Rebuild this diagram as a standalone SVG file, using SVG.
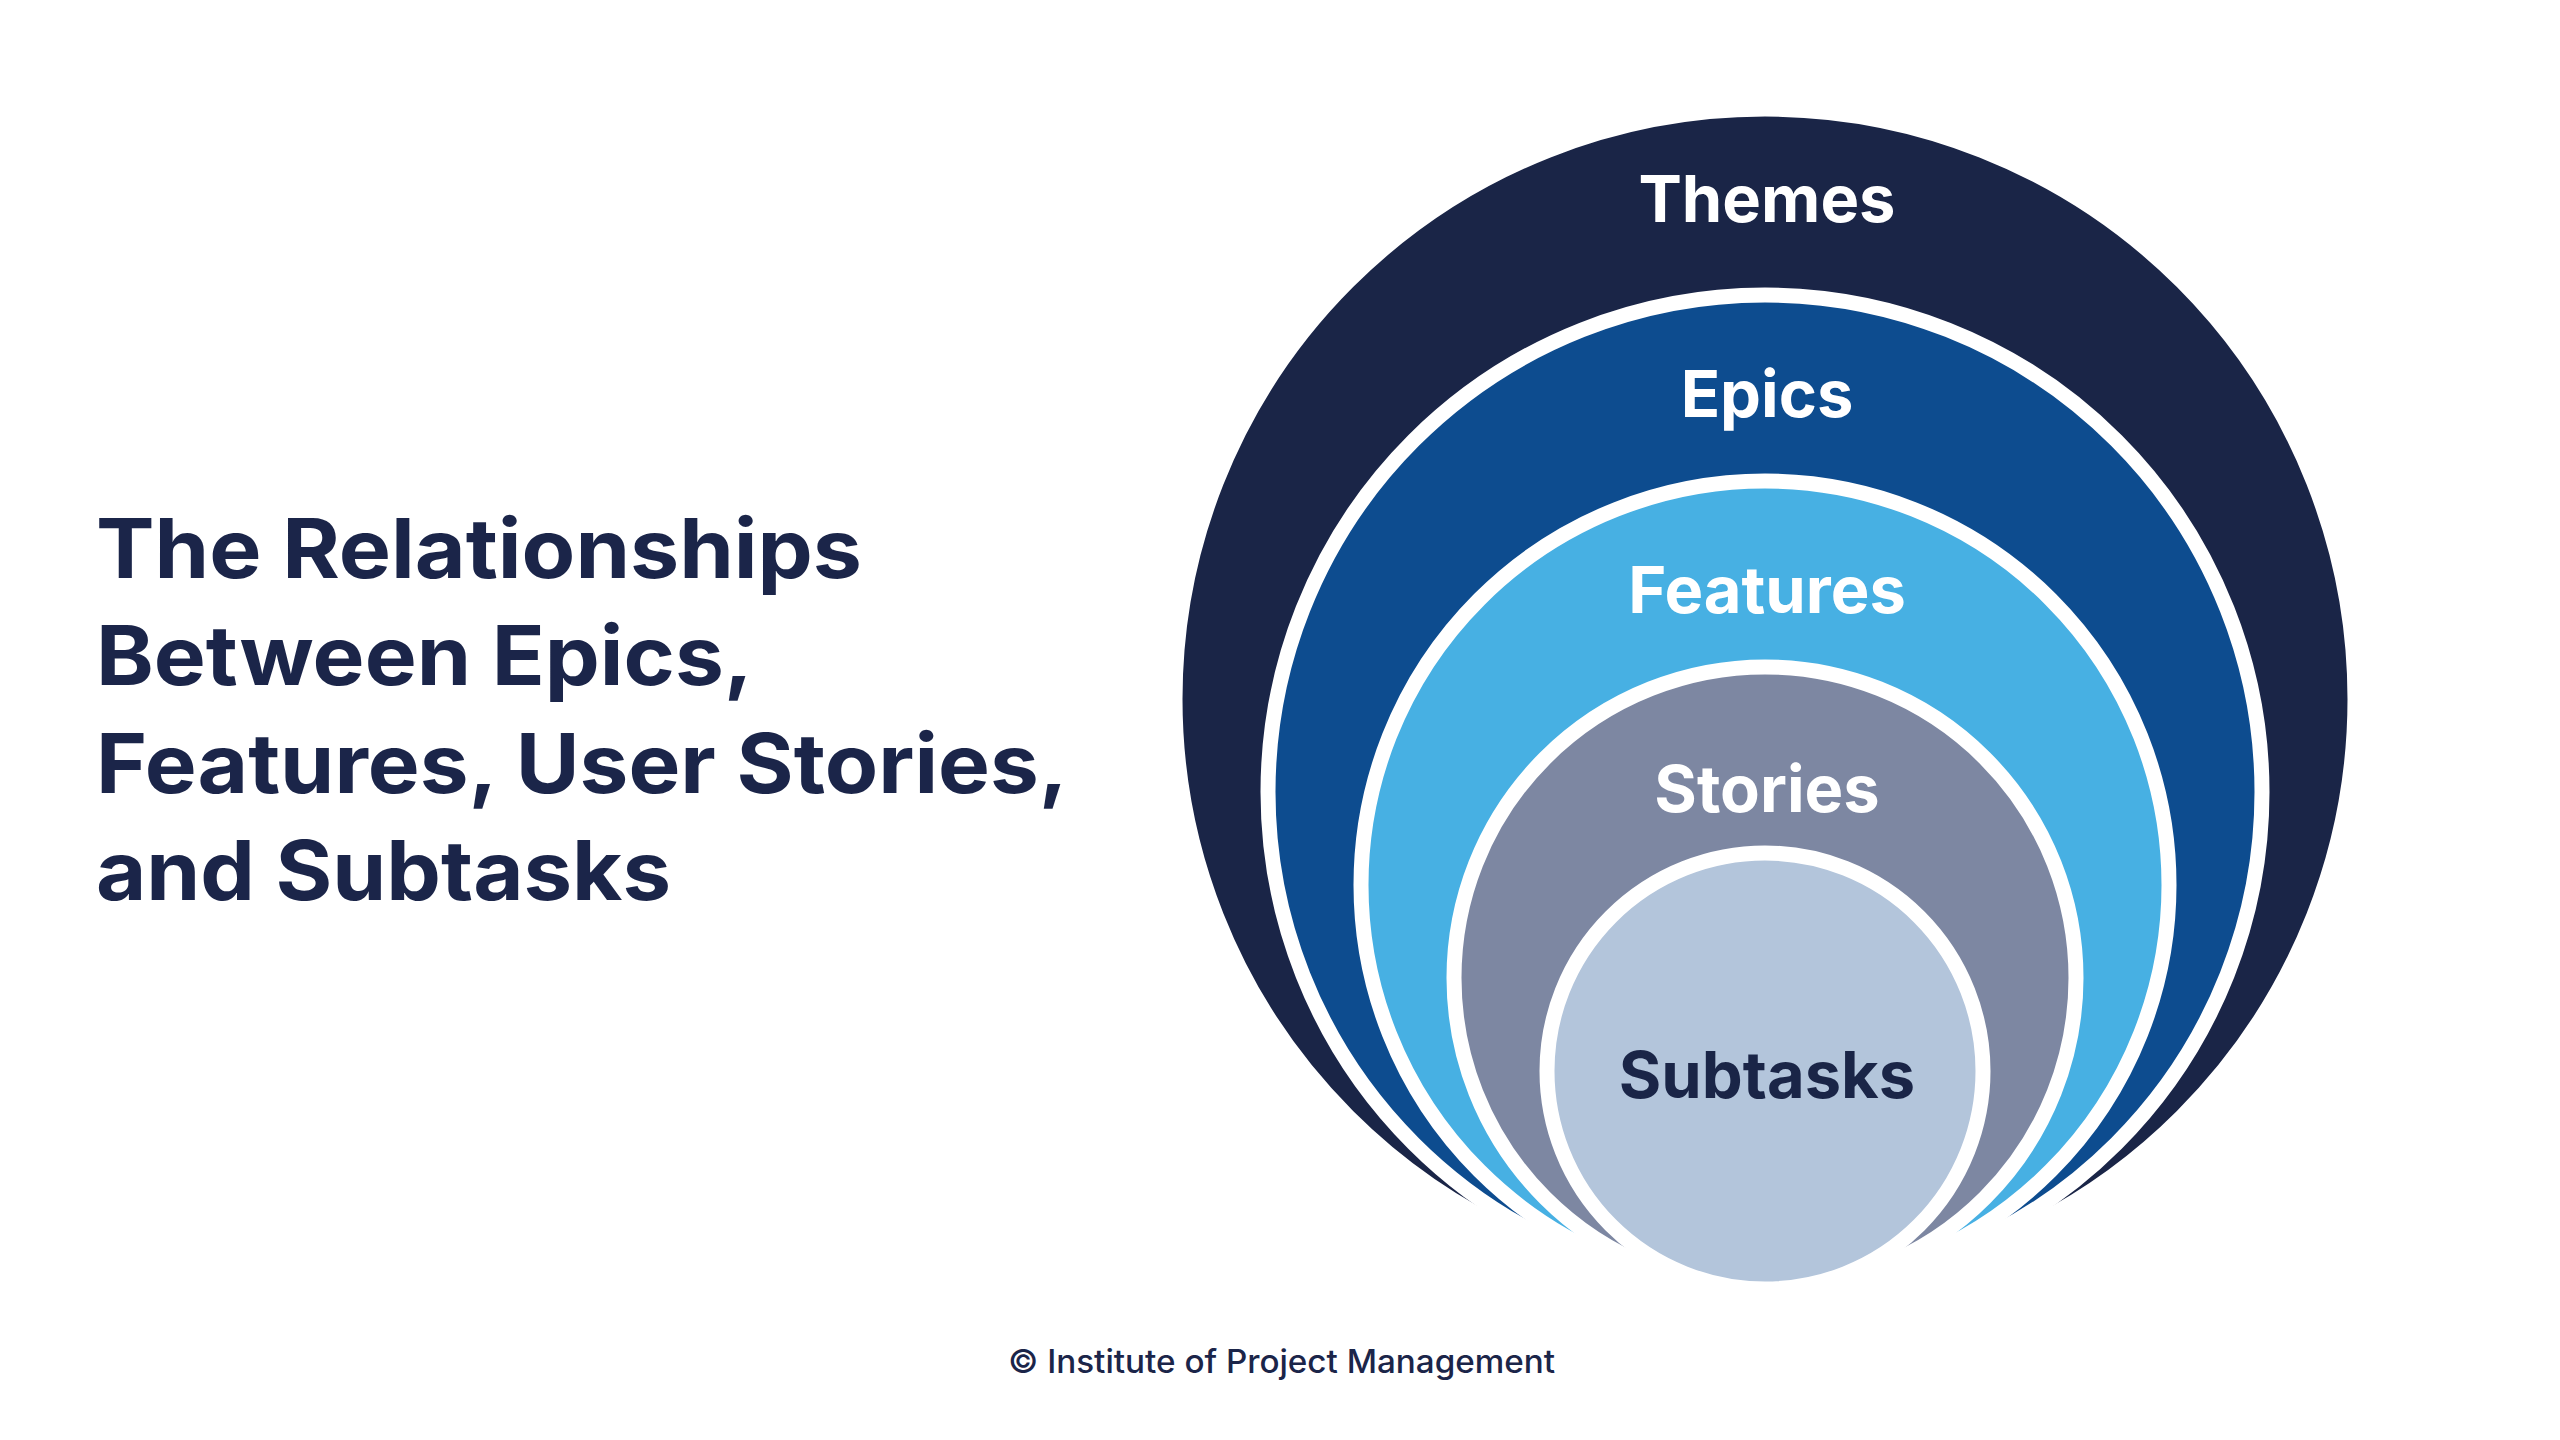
<svg xmlns="http://www.w3.org/2000/svg" width="2560" height="1440" viewBox="0 0 2560 1440">
  <style>
    .ring { stroke: #ffffff; stroke-width: 15; }
    .lbl { font-family: Inter, "Liberation Sans", sans-serif; font-weight: 700; font-size: 65px; text-anchor: middle; fill: #ffffff; }
    .title { font-family: Inter, "Liberation Sans", sans-serif; font-weight: 700; font-size: 82px; fill: #1b2549; }
    .copy { font-family: Inter, "Liberation Sans", sans-serif; font-weight: 500; font-size: 32px; fill: #1b2549; }
  </style>
  <rect x="0" y="0" width="2560" height="1440" fill="#ffffff"/>
  <g id="themes">
    <circle class="ring" cx="1765" cy="699" r="590" fill="#1a2547"/>
    <text class="lbl" x="1767" y="222">Themes</text>
  </g>
  <g id="epics">
    <circle class="ring" cx="1765" cy="792" r="497" fill="#0d4c8f"/>
    <text class="lbl" x="1767" y="417">Epics</text>
  </g>
  <g id="features">
    <circle class="ring" cx="1765" cy="885" r="404" fill="#47b0e3"/>
    <text class="lbl" x="1767" y="613">Features</text>
  </g>
  <g id="stories">
    <circle class="ring" cx="1765" cy="978" r="311" fill="#7d87a2"/>
    <text class="lbl" x="1767" y="812">Stories</text>
  </g>
  <g id="subtasks">
    <circle class="ring" cx="1765" cy="1071" r="218" fill="#b3c5db"/>
    <text class="lbl" x="1767" y="1098" style="fill:#1a2547">Subtasks</text>
  </g>
  <g id="connectors"></g>
  <g id="title">
    <text class="title" x="96" y="578" textLength="766" lengthAdjust="spacingAndGlyphs">The Relationships</text>
    <text class="title" x="96" y="685" textLength="657" lengthAdjust="spacingAndGlyphs">Between Epics,</text>
    <text class="title" x="96" y="793" textLength="972" lengthAdjust="spacingAndGlyphs">Features, User Stories,</text>
    <text class="title" x="96" y="900" textLength="575" lengthAdjust="spacingAndGlyphs">and Subtasks</text>
  </g>
  <g id="copyright">
    <text class="copy" x="1008" y="1373" textLength="547" lengthAdjust="spacingAndGlyphs">© Institute of Project Management</text>
  </g>
</svg>
